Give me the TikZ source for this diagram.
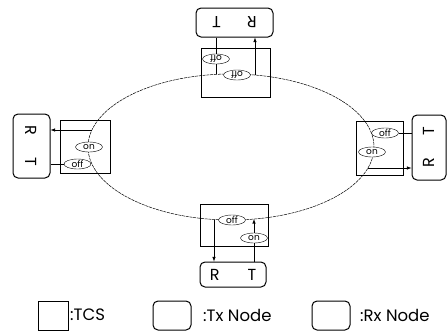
\documentclass[tikz,border=0pt]{standalone}
\usepackage{fontspec}
\setmainfont{Poppins}
\usetikzlibrary{shapes.geometric}
\begin{document}
\begin{tikzpicture}%
  [x=1pt,y=-1pt,>=latex,
   sw/.style={ellipse,draw,fill=white,inner sep=0,minimum width=27,minimum height=10,
     font=\fontsize{9}{9}\selectfont}]
  \tikzstyle{tcs box}=[rectangle,draw,line width=0.7pt,inner sep=0]
  \tikzstyle{rt node}=[rectangle,rounded corners=5,draw,line width=1pt,inner sep=0,
    font=\fontsize{16}{16}\selectfont]
  \tikzstyle{ring}=[line width=0.5pt,dash pattern=on 3pt off 0.8pt]
  \tikzstyle{legend}=[anchor=west,inner sep=0,font=\fontsize{16.5}{16.5}\selectfont]
  \useasboundingbox (0,0) rectangle (448,330);
  \node(ttcs)[tcs box,minimum width=69,minimum height=49] at (235.5,72.5){};
  \node(ltcs)[tcs box,minimum width=50,minimum height=53] at (85,146.5){};
  \node(rtcs)[tcs box,minimum width=47,minimum height=54] at (379.5,148){};
  \node(btcs)[tcs box,minimum width=68,minimum height=42] at (234,225){};
  \node(tnode)[rt node,minimum width=77,minimum height=29] at (234.5,22.5)
    {\rotatebox{180}{R\hspace{26pt}T}};
  \node(lnode)[rt node,minimum width=37,minimum height=64] at (31.5,146)
    {\rotatebox{-90}{R\hspace{22pt}T}};
  \node(rnode)[rt node,minimum width=34,minimum height=65] at (429,147.5)
    {\rotatebox{90}{R\hspace{22pt}T}};
  \node(bnode)[rt node,minimum width=66,minimum height=25] at (233,274.5)
    {R\hspace{28pt}T};
  \draw[ring] (231,147) ellipse [x radius=143,y radius=73];
  \coordinate(tT) at (216,74.4);
  \coordinate(tR) at (255,75);
  \coordinate(lR) at (91.9,130);
  \coordinate(rR) at (367.9,168);
  \coordinate(bR) at (214,219.5);
  \coordinate(bT) at (254,219);
  \draw[line width=0.6pt] (tT |- tnode.south) -- (tT);
  \draw[line width=0.6pt,->] (tR) -- (tR |- tnode.south);
  \draw[line width=0.6pt,->] (lR) -- (lR -| lnode.east);
  \draw[line width=0.6pt,->] (rR) -- (rR -| rnode.west);
  \draw[line width=0.6pt,->] (bR) -- (bR |- bnode.north);
  \draw[line width=0.6pt,->] (bT |- bnode.north) -- (bT);
  \node(toff1)[sw,rotate=180] at (216,59){off};
  \node(toff2)[sw,rotate=180] at (237,75){off};
  \node(lon)[sw] at (89,147){on};
  \node(loff)[sw] at (77.5,164){off};
  \node(roff)[sw] at (385,133){off};
  \node(ron)[sw] at (372,152){on};
  \node(boff)[sw] at (232,220){off};
  \node(bon)[sw] at (254,238){on};
  \draw[line width=0.6pt] (loff) -- (lnode.east |- loff);
  \draw[line width=0.6pt] (roff) -- (rnode.west |- roff);
  \node(lgtcs)[tcs box,minimum width=30,minimum height=29] at (53,315.5){};
  \node(lgtcst)[legend] at (70,315){:TCS};
  \node(lgtx)[rt node,minimum width=38,minimum height=29] at (172,315.5){};
  \node(lgtxt)[legend] at (203,315){:Tx Node};
  \node(lgrx)[rt node,minimum width=38,minimum height=29] at (331,315.5){};
  \node(lgrxt)[legend] at (360,315){:Rx Node};
\end{tikzpicture}
\end{document}
